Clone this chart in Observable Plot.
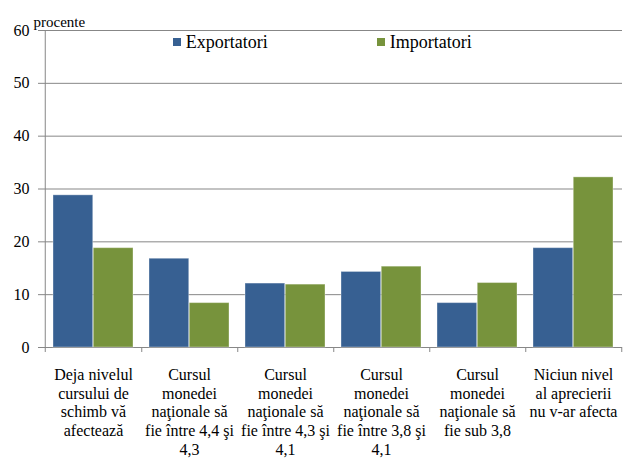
<!DOCTYPE html>
<html>
<head>
<meta charset="utf-8">
<script src="https://cdn.jsdelivr.net/npm/d3@7"></script>
<script src="https://cdn.jsdelivr.net/npm/@observablehq/plot@0.6"></script>
<style>
  html, body { margin: 0; padding: 0; background: #fff; }
  #chart { position: relative; width: 623px; height: 458px; }
  #chart svg { position: absolute; left: 0; top: 0; }
  .legend-item { position: absolute; font-size: 18px; line-height: 18px; color: #000; white-space: nowrap; }
  .legend-item span.sw { position: absolute; width: 8px; height: 8px; }
</style>
</head>
<body>
<div id="chart"></div>
<script>
const categories = [
  "Deja nivelul\ncursului de\nschimb vă\nafectează",
  "Cursul\nmonedei\nnaţionale să\nfie între 4,4 şi\n4,3",
  "Cursul\nmonedei\nnaţionale să\nfie între 4,3 şi\n4,1",
  "Cursul\nmonedei\nnaţionale să\nfie între 3,8 şi\n4,1",
  "Cursul\nmonedei\nnaţionale să\nfie sub 3,8",
  "Niciun nivel\nal aprecierii\nnu v-ar afecta"
];
const seriesNames = ["Exportatori", "Importatori"];
const exportatori = [28.8, 16.8, 12.1, 14.3, 8.4, 18.8];
const importatori = [18.8, 8.4, 11.9, 15.3, 12.2, 32.2];
const yTicks = [0, 10, 20, 30, 40, 50, 60];
const yLabel = "procente";
const colors = ["#376092", "#77933C"];

const FONT = '"Liberation Serif"';
const W = 623, H = 458;
const mL = 43, mR = 1, mT = 30, mB = 111;
const band = (W - mL - mR) / categories.length;
const edge = 8, barW = (band - 2 * edge) / 2;

const expRows = categories.map((c, i) => ({cat: c, value: exportatori[i]}));
const impRows = categories.map((c, i) => ({cat: c, value: importatori[i]}));
const gray = "#878787";

const chart = Plot.plot({
  width: W, height: H,
  marginLeft: mL, marginRight: mR, marginTop: mT, marginBottom: mB,
  style: {fontFamily: FONT, fontSize: "16px", color: "#000", background: "#fff"},
  x: {domain: categories, padding: 0, axis: null},
  y: {domain: [0, 60], axis: null},
  marks: [
    Plot.gridY(yTicks, {stroke: gray, strokeOpacity: 1}),
    Plot.barY(expRows, {x: "cat", y: "value", fill: colors[0], insetLeft: edge, insetRight: edge + barW, stroke: "#fff", strokeOpacity: 0.35, strokeWidth: 1}),
    Plot.barY(impRows, {x: "cat", y: "value", fill: colors[1], insetLeft: edge + barW, insetRight: edge, stroke: "#fff", strokeOpacity: 0.35, strokeWidth: 1}),
    Plot.ruleX([categories[0]], {x: d => d, dx: -band / 2, stroke: gray, insetBottom: -5}),
    Plot.axisX({tickSize: 5, tickFormat: () => "", label: null, dx: band / 2, stroke: gray}),
    Plot.axisX({tickSize: 0, tickPadding: 19, fontSize: 16, lineHeight: 1.17, label: null, tickFormat: d => d, fill: "#000", textOverflow: null, fontFamily: FONT}),
    Plot.axisY(yTicks, {tickSize: 5, tickPadding: 9, fontSize: 16, label: null, stroke: gray, fill: "#000", fontFamily: FONT}),
    Plot.text([yLabel], {frameAnchor: "top-left", dx: -10, dy: -4, textAnchor: "start", lineAnchor: "bottom", fontSize: 15, fill: "#000", fontFamily: FONT})
  ]
});
const root = document.getElementById("chart");
root.appendChild(chart);
chart.style.fontFamily = "Liberation Serif";
chart.querySelectorAll("text, tspan").forEach(n => { n.style.fontFamily = "Liberation Serif"; });

const legendPos = [172.7, 376.7];
seriesNames.forEach((name, i) => {
  const item = document.createElement("div");
  item.className = "legend-item";
  item.style.fontFamily = "Liberation Serif";
  item.style.left = legendPos[i] + "px";
  item.style.top = "33px";
  const sw = document.createElement("span");
  sw.className = "sw";
  sw.style.background = colors[i];
  sw.style.left = "0px";
  sw.style.top = "4.5px";
  const t = document.createElement("span");
  t.textContent = name;
  t.style.fontFamily = "Liberation Serif";
  t.style.marginLeft = "13px";
  item.appendChild(sw);
  item.appendChild(t);
  root.appendChild(item);
});
</script>
</body>
</html>
